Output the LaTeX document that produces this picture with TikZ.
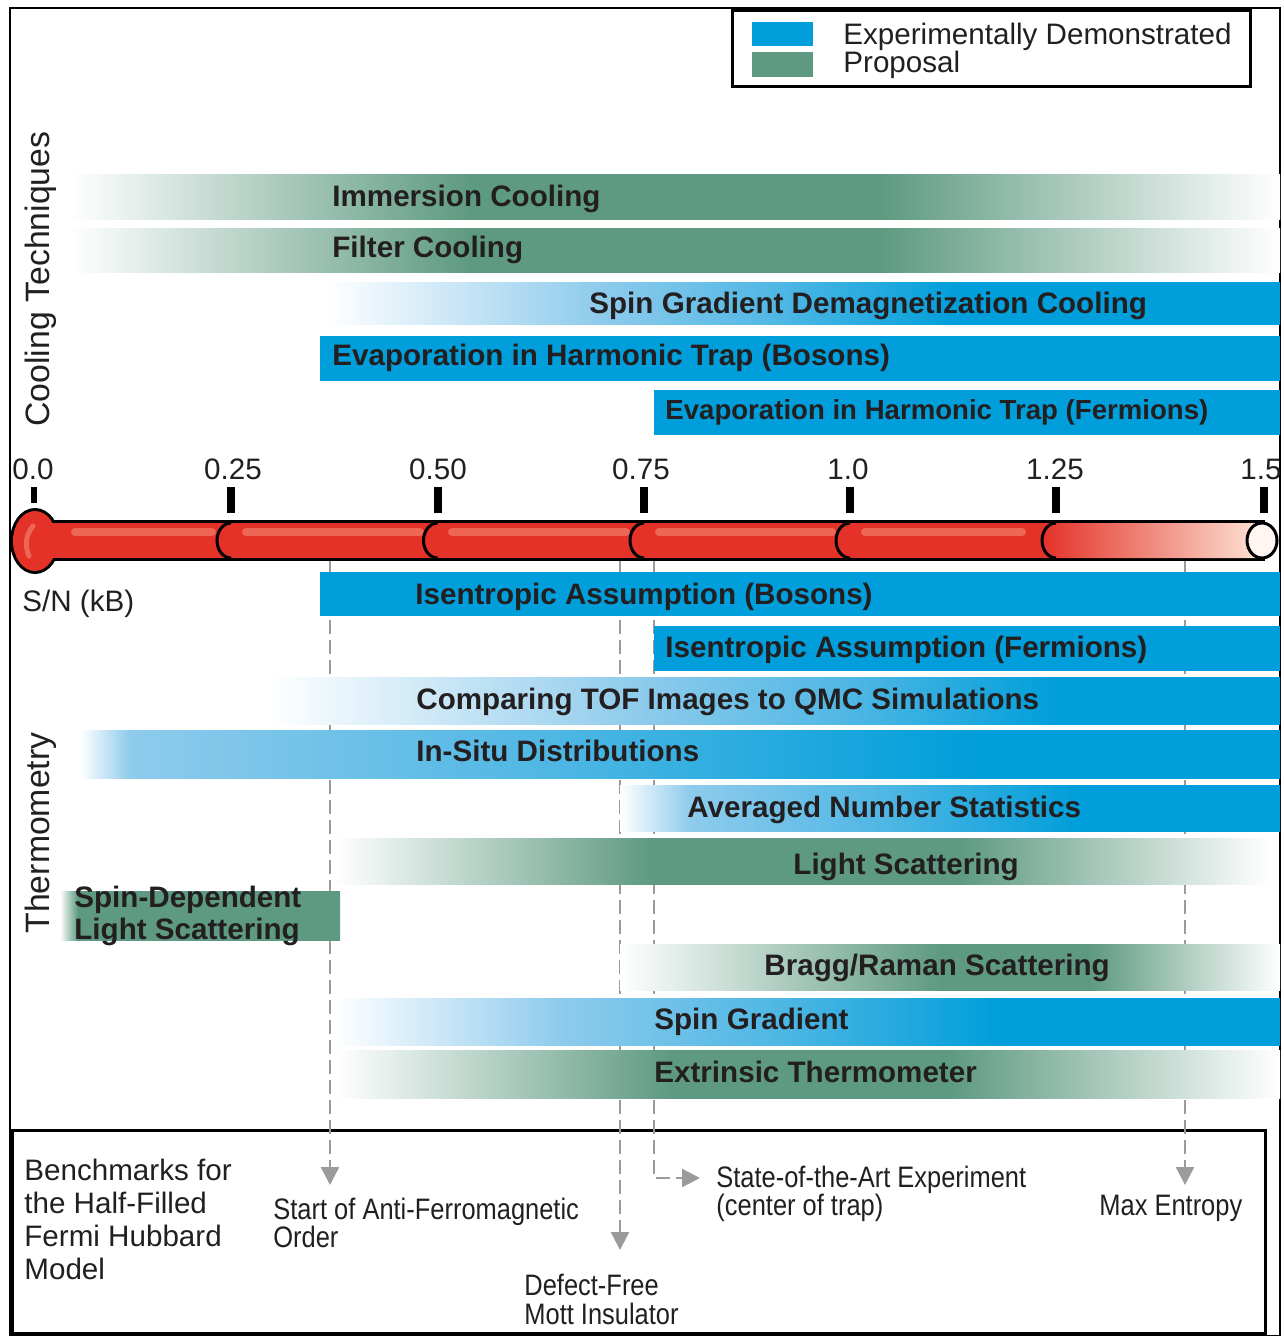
\documentclass[tikz,border=0pt]{standalone}
\usepackage{fontspec}
\setmainfont{Liberation Sans}
\newfontfamily\narrowsans[FakeStretch=0.86]{Liberation Sans}
\usetikzlibrary{arrows.meta}

\definecolor{expblue}{RGB}{0,158,218}
\definecolor{lightblue}{RGB}{142,203,236}
\definecolor{propgreen}{RGB}{94,154,129}
\definecolor{thermred}{RGB}{228,50,40}
\definecolor{thermlight}{RGB}{238,102,86}
\definecolor{peach}{RGB}{253,228,214}
\definecolor{capwhite}{RGB}{255,246,242}
\definecolor{dashgray}{RGB}{155,155,155}
\definecolor{textdark}{RGB}{35,31,32}

% green bar: white -> green, green, green -> white (the path box is 25bp..75bp)
\newcommand{\propbar}[7]{%
  \pgfmathsetmacro\stopa{25+(#5-#4)/(#7-#4)*50}%
  \pgfmathsetmacro\stopb{25+(#6-#4)/(#7-#4)*50}%
  \edef\decl{\noexpand\pgfdeclarehorizontalshading{#1}{100bp}{color(0bp)=(white); color(25bp)=(white);
    color(\stopa bp)=(propgreen); color(\stopb bp)=(propgreen); color(75bp)=(white); color(100bp)=(white)}}%
  \decl
  \shade[shading=#1] (#4,#2) rectangle (#7,#3);}
% blue bar: white -> light blue -> blue, up to the frame
\newcommand{\expbar}[6]{%
  \pgfmathsetmacro\stopa{25+(#5-#4)/(1280-#4)*50}%
  \pgfmathsetmacro\stopb{25+(#6-#4)/(1280-#4)*50}%
  \pgfmathsetmacro\stopm{(\stopa+\stopb)/2}%
  \edef\decl{\noexpand\pgfdeclarehorizontalshading{#1}{100bp}{color(0bp)=(white); color(25bp)=(white);
    color(\stopa bp)=(lightblue); color(\stopm bp)=(expblue!45!lightblue); color(\stopb bp)=(expblue);
    color(75bp)=(expblue); color(100bp)=(expblue)}}%
  \decl
  \shade[shading=#1] (#4,#2) rectangle (1280,#3);}

\begin{document}
\begin{tikzpicture}[x=0.5pt,y=-0.5pt,
  barlabel/.style={anchor=base west,inner sep=0pt,text=textdark,font=\fontsize{14.8}{16}\selectfont\bfseries},
  plain/.style={inner sep=0pt,text=textdark,font=\fontsize{14.8}{16.5}\selectfont},
  narrow/.style={inner sep=0pt,text=textdark,anchor=north west,align=left,font=\narrowsans\fontsize{14.8}{14}\selectfont},
  dasharrow/.style={dashgray,line width=1.2pt,dash pattern=on 7pt off 3pt,-{Triangle[width=9pt,length=9pt]}}]

\useasboundingbox (0,0) rectangle (1283,1336);

% frame
\draw[line width=1pt] (10,8) rectangle (1280,1336);

% legend
\draw[line width=1.5pt] (732,11) rectangle (1250,87);
\fill[expblue] (752,22) rectangle (813,46);
\fill[propgreen] (752,52) rectangle (813,77);
\node[plain,anchor=base west] (legexp) at (843,45) {Experimentally Demonstrated};
\node[plain,anchor=base west] (legprop) at (843,73) {Proposal};

% side titles
\node[plain,font=\fontsize{16.9}{18}\selectfont,rotate=90,anchor=base] (cooling) at (49,279) {Cooling Techniques};
\node[plain,font=\fontsize{16.9}{18}\selectfont,rotate=90,anchor=base] (thermo) at (49,833) {Thermometry};

% benchmarks
\draw[line width=1.5pt] (12,1130) rectangle (1265,1333);
\node[plain,anchor=north west,align=left] (bench) at (24,1159) {Benchmarks for\\the Half-Filled\\Fermi Hubbard\\Model};
\node[narrow] (afm) at (273,1198) {Start of Anti-Ferromagnetic\\Order};
\node[narrow,font=\narrowsans\fontsize{14.8}{14.5}\selectfont] (mott) at (524,1274) {Defect-Free\\Mott Insulator};
\node[narrow] (sota) at (716,1166) {State-of-the-Art Experiment\\(center of trap)};
\node[narrow] (maxs) at (1099,1195) {Max Entropy};

% dashed lines from the tube
\coordinate (afm top) at (330,560);
\coordinate (mott top) at (620,560);
\coordinate (sota top) at (654,560);
\coordinate (max top) at (1185,560);
\draw[dasharrow,shorten >=6.5pt] (afm top) -- (afm top |- afm.north);
\draw[dasharrow,shorten >=12pt] (mott top) -- (mott top |- mott.north);
\draw[dasharrow] (sota top) |- ([shift={(-16,12)}]sota.north west);
\draw[dasharrow,shorten >=5pt] (max top) -- (max top |- maxs.north);

% cooling techniques
\propbar{immfade}{175}{220}{70}{470}{880}{1280}
\node[barlabel] (immersion) at (332,207) {Immersion Cooling};
\propbar{filtfade}{229}{273}{70}{470}{880}{1280}
\node[barlabel] (filter) at (332,258) {Filter Cooling};
\expbar{sgdfade}{283}{325}{326}{600}{960}
\node[barlabel] (sgdcool) at (589,313.5) {Spin Gradient Demagnetization Cooling};
\fill[expblue] (320,336) rectangle (1280,381);
\node[barlabel] (evapbos) at (332,365.5) {Evaporation in Harmonic Trap (Bosons)};
\fill[expblue] (654,390) rectangle (1280,435);
\node[barlabel,font=\fontsize{13.8}{16}\selectfont\bfseries] (evapfer) at (665,420) {Evaporation in Harmonic Trap (Fermions)};

% thermometer
\draw[line width=3pt] (35,541) ellipse [x radius=22, y radius=30];
\draw[line width=3pt] (35,523) rectangle (1262,558);
\fill[thermred] (35,541) ellipse [x radius=22, y radius=30];
\fill[thermred] (35,523) rectangle (1056,558);
\shade[left color=thermred,right color=peach] (1056,558) arc[start angle=90,end angle=270,x radius=14,y radius=17.5] -- (1262,523) -- (1262,558) -- cycle;
\foreach \a/\b in {75/212, 246/420, 452/626, 659/832, 865/1022}
  \draw[thermlight,line width=4pt,line cap=round] (\a,532) -- (\b,532);
\draw[thermlight,line width=2.5pt,line cap=round] (33,526) .. controls (25,536) and (25,546) .. (29,556);
\foreach \x in {231,437.5,644,850,1056}
  \draw[line width=1.5pt] (\x,558) arc[start angle=90,end angle=270,x radius=14,y radius=17.5];
\filldraw[fill=capwhite,line width=1.5pt] (1262,540.5) ellipse [x radius=15, y radius=17.5];

% ticks
\fill (30.5,487) rectangle (36.5,503);
\foreach \x in {231,437.5,644,850,1056,1264}
  \fill (\x-4,487) rectangle (\x+4,513);
\foreach \x/\xtext [count=\i] in {33/0.0, 233/0.25, 438/0.50, 641/0.75, 848/1.0, 1055/1.25, 1261/1.5}
  \node[plain,anchor=base] (tick\i) at (\x,479) {\xtext};
\node[plain,anchor=base west] (sn) at (22,611) {S/N (kB)};

% thermometry
\fill[expblue] (320,572) rectangle (1280,616);
\node[barlabel] (isobos) at (415,604.5) {Isentropic Assumption (Bosons)};
\fill[expblue] (654,626) rectangle (1280,671);
\node[barlabel] (isofer) at (665,657.5) {Isentropic Assumption (Fermions)};
\expbar{toffade}{677}{724}{268}{640}{1060}
\node[barlabel] (tofqmc) at (416,709.5) {Comparing TOF Images to QMC Simulations};
\expbar{insitufade}{730}{778}{80}{130}{980}
\node[barlabel] (insitu) at (416,761.5) {In-Situ Distributions};
\expbar{numfade}{785}{831}{620}{690}{1080}
\node[barlabel] (numstat) at (687,817.5) {Averaged Number Statistics};
\propbar{lightfade}{838}{884}{335}{650}{960}{1270}
\node[barlabel] (lightsc) at (793,874.5) {Light Scattering};
\pgfdeclarehorizontalshading{spindepfade}{100bp}{color(0bp)=(white); color(25bp)=(white);
  color(28.2bp)=(propgreen); color(100bp)=(propgreen)}
\shade[shading=spindepfade] (60,891) rectangle (340,940);
\node[barlabel,anchor=north west,align=left] (spindep) at (74,886) {Spin-Dependent\\Light Scattering};
\propbar{braggfade}{944}{990}{620}{940}{1090}{1280}
\node[barlabel] (bragg) at (764,975.5) {Bragg/Raman Scattering};
\expbar{spinfade}{998}{1045}{335}{560}{1000}
\node[barlabel] (spingrad) at (654,1029.5) {Spin Gradient};
\propbar{extrfade}{1050}{1098}{335}{670}{950}{1280}
\node[barlabel] (extrinsic) at (654,1082.5) {Extrinsic Thermometer};

\end{tikzpicture}
\end{document}
